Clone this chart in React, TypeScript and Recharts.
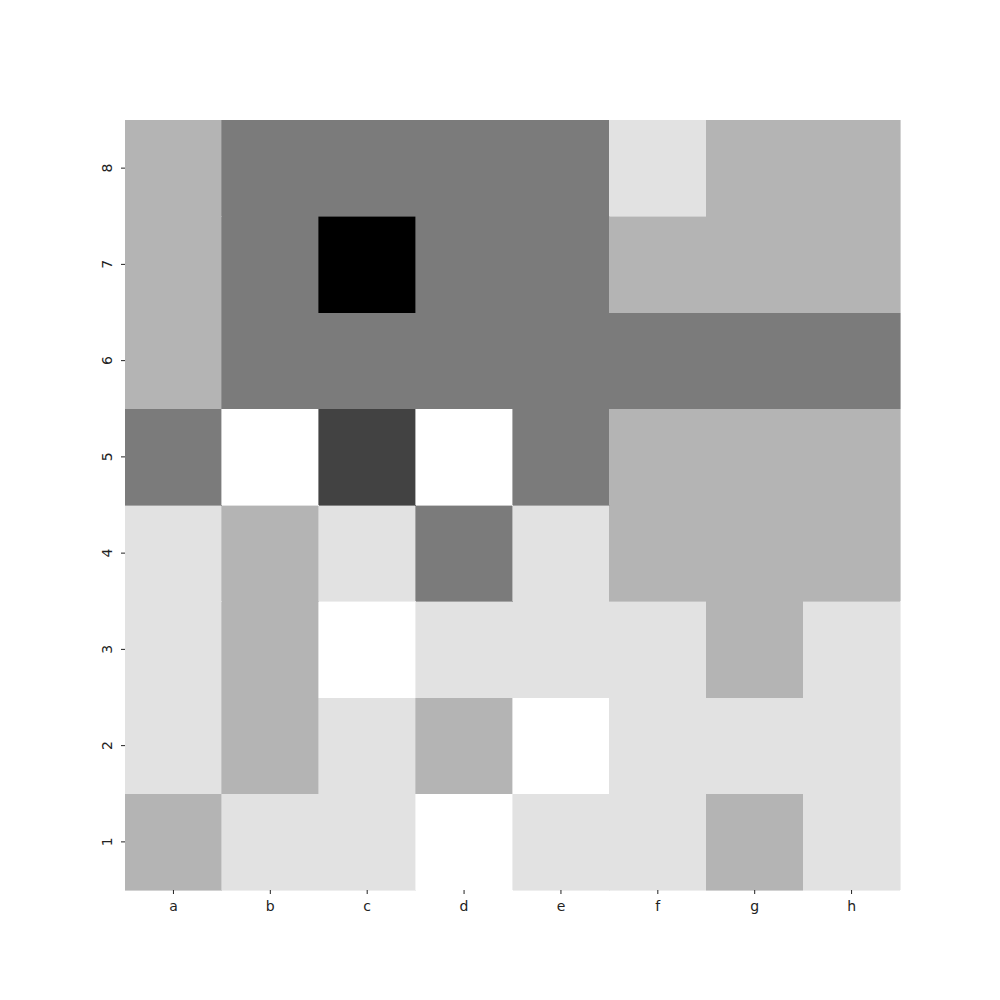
import { BarChart, Bar, XAxis, YAxis, Cell } from 'recharts'

// column labels and row labels (row 1 at the bottom)
const files = ['a', 'b', 'c', 'd', 'e', 'f', 'g', 'h']
const ranks = ['1', '2', '3', '4', '5', '6', '7', '8']

// grey level for every cell, rows listed from rank 1 up to rank 8, columns a..h
// 0 = white, 1 = very light, 2 = light grey, 3 = mid grey, 4 = dark, 5 = black
const rank1 = [2, 1, 1, 0, 1, 1, 2, 1]
const rank2 = [1, 2, 1, 2, 0, 1, 1, 1]
const rank3 = [1, 2, 0, 1, 1, 1, 2, 1]
const rank4 = [1, 2, 1, 3, 1, 2, 2, 2]
const rank5 = [3, 0, 4, 0, 3, 2, 2, 2]
const rank6 = [2, 3, 3, 3, 3, 3, 3, 3]
const rank7 = [2, 3, 5, 3, 3, 2, 2, 2]
const rank8 = [2, 3, 3, 3, 3, 1, 2, 2]
const levels = [rank1, rank2, rank3, rank4, rank5, rank6, rank7, rank8]

const palette = ['#ffffff', '#e2e2e2', '#b4b4b4', '#7b7b7b', '#424242', '#000000']

const rankTicks = [0.5, 1.5, 2.5, 3.5, 4.5, 5.5, 6.5, 7.5]

// one row per file, each rank stacked as a unit-height block
const data = files.map((f) => {
  const row: Record<string, string | number> = { file: f }
  ranks.forEach((r) => {
    row['r' + r] = 1
  })
  return row
})

const YTick = (props: any) => {
  const { x, y, payload } = props
  const label = ranks[Math.floor(payload.value)]
  return (
    <text
      x={x}
      y={y}
      transform={`rotate(-90, ${x}, ${y})`}
      textAnchor="middle"
      dominantBaseline="middle"
      fontSize={14}
      fontFamily="DejaVu Sans"
      fill="#222"
    >
      {label}
    </text>
  )
}

export default function App() {
  return (
    <div style={{ position: 'absolute', left: 0, top: 0, background: '#fff' }}>
      <BarChart
        width={1000}
        height={1000}
        data={data}
        margin={{ top: 120, right: 100, bottom: 80, left: 85 }}
        barCategoryGap={0}
        barGap={0}
      >
        <XAxis
          dataKey="file"
          height={30}
          axisLine={false}
          tickSize={4}
          tickLine={{ stroke: '#222' }}
          tick={{ fontSize: 14, fontFamily: 'DejaVu Sans', fill: '#222' }}
          tickMargin={7}
        />
        <YAxis
          type="number"
          domain={[0, 8]}
          ticks={rankTicks}
          width={40}
          axisLine={false}
          tickSize={4}
          tickLine={{ stroke: '#222' }}
          tick={<YTick />}
          tickMargin={13}
        />
        {ranks.map((r, ri) => (
          <Bar key={r} dataKey={'r' + r} stackId="board" isAnimationActive={false}>
            {files.map((f, fi) => (
              <Cell
                key={f}
                fill={palette[levels[ri][fi]]}
                stroke={palette[levels[ri][fi]]}
                strokeWidth={0.6}
                shapeRendering="crispEdges"
              />
            ))}
          </Bar>
        ))}
      </BarChart>
    </div>
  )
}
